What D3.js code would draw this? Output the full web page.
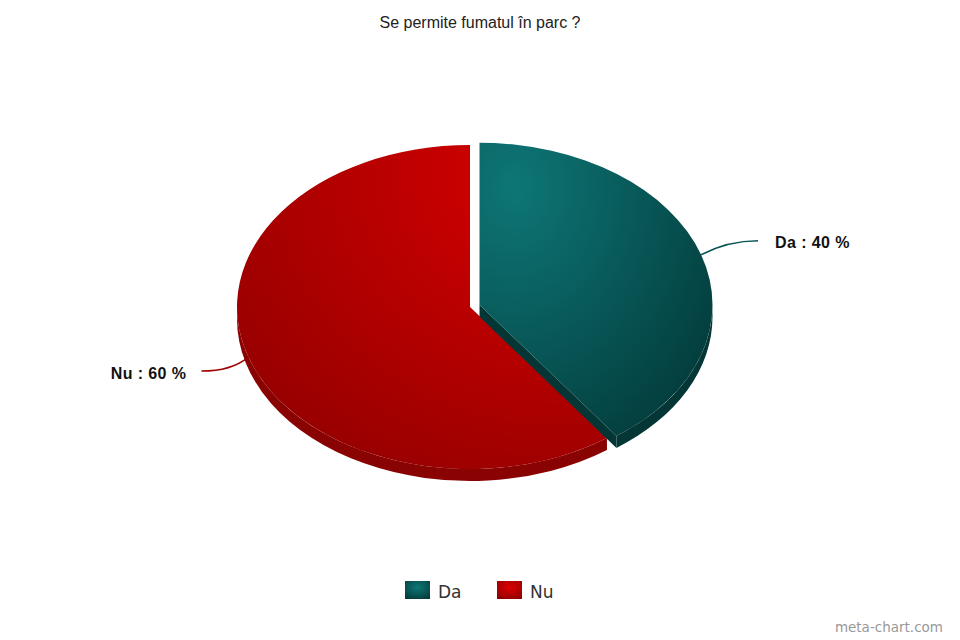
<!DOCTYPE html>
<html>
<head>
<meta charset="utf-8">
<script src="https://cdn.jsdelivr.net/npm/d3@7/dist/d3.min.js"></script>
<style>
  html, body { margin: 0; padding: 0; background: #fff; }
  svg { display: block; }
</style>
</head>
<body>
<svg id="chart" width="960" height="640"></svg>
<script>
// ---- data ----
const title = "Se permite fumatul în parc ?";
const categories = ["Da", "Nu"];
const values = [40, 60];
const labels = ["Da : 40 %", "Nu : 60 %"];
const watermark = "meta-chart.com";

// ---- layout / style ----
const W = 960, H = 640;
const cx = 470, cy = 307;      // pie centre
const R = 233;                  // horizontal radius
const k = 162 / 233;            // vertical squash
const depth = 12;               // screen-space thickness
const explode = [10, 0];
const topStops = [
  { c0: "#0e7676", c1: "#033b3b", cx: "15%", cy: "15%", r: "105%" },
  { c0: "#d90000", c1: "#950000", cx: "88%", cy: "8%", r: "110%" }
];
const sideColor = ["#043636", "#8a0303"];
const lineColor = ["#0b5454", "#a00000"];
const legendColor = [["#0f7777", "#043a3a"], ["#dd0000", "#8e0000"]];

const svg = d3.select("#chart");
svg.append("rect").attr("width", W).attr("height", H).attr("fill", "#fff");
const defs = svg.append("defs");

topStops.forEach((s, i) => {
  const g = defs.append("radialGradient").attr("id", "top" + i)
    .attr("cx", s.cx).attr("cy", s.cy).attr("r", s.r)
    .attr("fx", s.cx).attr("fy", s.cy);
  g.append("stop").attr("offset", "0%").attr("stop-color", s.c0);
  g.append("stop").attr("offset", "100%").attr("stop-color", s.c1);
});
legendColor.forEach((c, i) => {
  const g = defs.append("radialGradient").attr("id", "leg" + i)
    .attr("cx", "50%").attr("cy", "35%").attr("r", "75%");
  g.append("stop").attr("offset", "0%").attr("stop-color", c[0]);
  g.append("stop").attr("offset", "100%").attr("stop-color", c[1]);
});

const pie = d3.pie().sort(null).value(d => d);
const arcsData = pie(values);
const arcGen = d3.arc().innerRadius(0).outerRadius(R);
const D = depth / k;  // depth in unscaled (circle) coordinates

function centre(d, i) {
  const m = (d.startAngle + d.endAngle) / 2;
  return [cx + explode[i] * Math.sin(m), cy - explode[i] * Math.cos(m) * k];
}

// draw order: slice 1 (Nu) first, then slice 0 (Da)
const order = [1, 0];
order.forEach(i => {
  const d = arcsData[i];
  const [x0, y0] = centre(d, i);
  const g = svg.append("g")
    .attr("transform", `translate(${x0},${y0}) scale(1,${k})`);

  // outer side wall (front half only)
  const s = Math.max(d.startAngle, Math.PI / 2);
  const e = Math.min(d.endAngle, 3 * Math.PI / 2);
  if (s < e) {
    const p = d3.path();
    p.moveTo(R * Math.sin(s), -R * Math.cos(s));
    p.arc(0, 0, R, s - Math.PI / 2, e - Math.PI / 2, false);
    p.lineTo(R * Math.sin(e), -R * Math.cos(e) + D);
    p.arc(0, D, R, e - Math.PI / 2, s - Math.PI / 2, true);
    p.closePath();
    g.append("path").attr("d", p.toString()).attr("fill", sideColor[i]);
  }
  // radial faces
  [[d.startAngle, -1], [d.endAngle, 1]].forEach(([a, sg]) => {
    if (sg * Math.sin(a) > 1e-6) {
      const p = d3.path();
      p.moveTo(0, 0);
      p.lineTo(R * Math.sin(a), -R * Math.cos(a));
      p.lineTo(R * Math.sin(a), -R * Math.cos(a) + D);
      p.lineTo(0, D);
      p.closePath();
      g.append("path").attr("d", p.toString()).attr("fill", sideColor[i]);
    }
  });
  // top face
  g.append("path").attr("d", arcGen(d)).attr("fill", `url(#top${i})`);
});

// labels with connectors
arcsData.forEach((d, i) => {
  const m = (d.startAngle + d.endAngle) / 2;
  const [x0, y0] = centre(d, i);
  const sg = Math.sin(m) >= 0 ? 1 : -1;
  const px = x0 + R * Math.sin(m), py = y0 - R * Math.cos(m) * k;
  const ex = px + sg * (sg > 0 ? 57 : 47), ey = py - sg * 14;
  const p = d3.path();
  p.moveTo(px, py);
  p.quadraticCurveTo(ex - sg * 30, ey, ex, ey);
  svg.append("path").attr("d", p.toString()).attr("fill", "none")
    .attr("stroke", lineColor[i]).attr("stroke-width", 1.5);
  svg.append("text")
    .attr("x", ex + sg * (sg > 0 ? 17 : 15)).attr("y", ey + 2)
    .attr("text-anchor", sg > 0 ? "start" : "end")
    .attr("dominant-baseline", "central")
    .attr("font-family", "Arial, 'Liberation Sans', sans-serif")
    .attr("font-weight", "bold").attr("font-size", 16)
    .attr("letter-spacing", 0.4)
    .attr("fill", "#111")
    .text(labels[i]);
});

// title
svg.append("text").attr("x", 480).attr("y", 28)
  .attr("text-anchor", "middle")
  .attr("font-family", "Arial, 'Liberation Sans', sans-serif")
  .attr("font-size", 16).attr("fill", "#222")
  .text(title);

// legend
const legX = d3.scaleOrdinal().domain(categories).range([405, 497]);
categories.forEach((c, i) => {
  const x = legX(c);
  svg.append("rect").attr("x", x).attr("y", 581).attr("width", 25).attr("height", 18)
    .attr("fill", `url(#leg${i})`);
  svg.append("text").attr("x", x + 33).attr("y", 598)
    .attr("font-family", "'DejaVu Sans', sans-serif")
    .attr("font-size", 17).attr("fill", "#333")
    .text(c);
});

// watermark
svg.append("text").attr("x", 943).attr("y", 632)
  .attr("text-anchor", "end")
  .attr("font-family", "'DejaVu Sans', sans-serif")
  .attr("font-size", 13.5).attr("fill", "#999")
  .text(watermark);
</script>
</body>
</html>
